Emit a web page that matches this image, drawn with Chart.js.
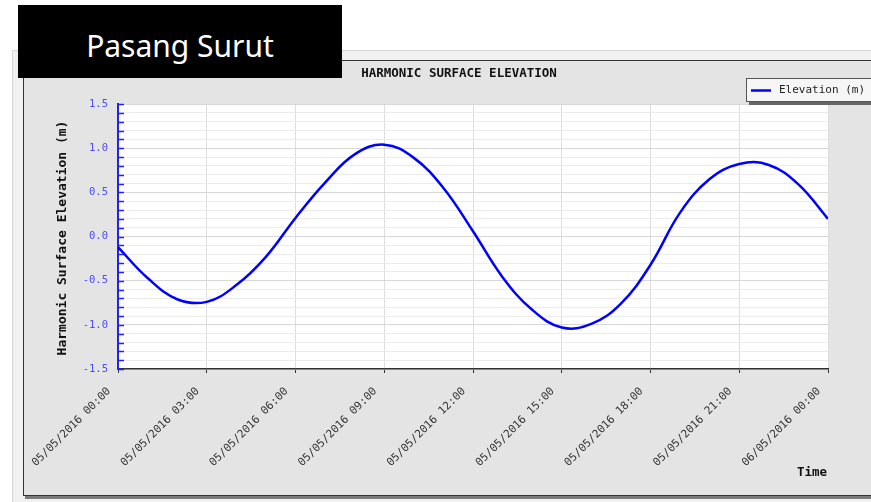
<!DOCTYPE html>
<html>
<head>
<meta charset="utf-8">
<script src="https://cdn.jsdelivr.net/npm/chart.js@4.4.0/dist/chart.umd.min.js"></script>
<style>
  html, body { margin: 0; padding: 0; background: #fff; }
  #wrap { position: relative; width: 871px; height: 502px; overflow: hidden; }
  .outer { position: absolute; left: 12px; top: 50px; width: 880px; height: 470px;
           background: #f1f1f1; border-top: 1px solid #d6d6d6; border-left: 1px solid #d6d6d6; }
  .inner { position: absolute; left: 23px; top: 60px; width: 880px; height: 434px;
           background: #e4e4e4; border: 1px solid #333; box-shadow: 2px 3px 0 #7a7a7a; }
  .badge { position: absolute; left: 18px; top: 5px; width: 324px; height: 73px; background: #000;
           color: #fff; font-family: "Noto Sans", sans-serif; font-size: 30px; line-height: 73px;
           text-align: center; z-index: 3; padding-top: 4px; box-sizing: border-box; }
  canvas { position: absolute; left: 0; top: 0; z-index: 2; }
</style>
</head>
<body>
<div id="wrap">
  <div class="outer"></div>
  <div class="inner"></div>
  <div class="badge">Pasang Surut</div>
  <canvas id="tide" width="871" height="502"></canvas>
</div>
<script>
// tick labels for the time axis (every 3 hours)
const timeLabels = ['05/05/2016 00:00', '05/05/2016 03:00', '05/05/2016 06:00', '05/05/2016 09:00',
    '05/05/2016 12:00', '05/05/2016 15:00', '05/05/2016 18:00', '05/05/2016 21:00', '06/05/2016 00:00'];

// hours since 05/05/2016 00:00
const hours = [0, 1, 2, 3, 4, 5, 6, 7, 8, 9, 10, 11, 12, 13, 14, 15, 16, 17, 18, 19, 20, 21, 22, 23, 24];
// elevation (m)
const elevation = [-0.12, -0.47, -0.71, -0.74, -0.55, -0.23, 0.21, 0.61, 0.93, 1.04, 0.89, 0.55, 0.06,
    -0.46, -0.83, -1.03, -0.99, -0.76, -0.32, 0.27, 0.65, 0.82, 0.81, 0.59, 0.20];

const MONO = '"DejaVu Sans Mono", monospace';

var decorPlugin = {
    id: 'decor',
    beforeDraw: function (chart) {
        const ctx = chart.ctx;
        const a = chart.chartArea;
        ctx.save();
        ctx.fillStyle = '#ffffff';
        ctx.fillRect(a.left, a.top, a.right - a.left, a.bottom - a.top);
        ctx.restore();
    },
    afterDraw: function (chart) {
        const ctx = chart.ctx;
        const a = chart.chartArea;
        const y = chart.scales.y;
        ctx.save();

        // inward ticks on the value axis
        ctx.strokeStyle = '#2020ff';
        ctx.lineWidth = 1.5;
        y.ticks.forEach(function (t) {
            const py = Math.round(y.getPixelForValue(t.value)) + 0.5;
            ctx.beginPath();
            ctx.moveTo(a.left, py);
            ctx.lineTo(a.left + 6, py);
            ctx.stroke();
        });

        // title
        ctx.fillStyle = '#111';
        ctx.font = 'bold 12.5px ' + MONO;
        ctx.textAlign = 'center';
        ctx.textBaseline = 'middle';
        ctx.fillText('HARMONIC SURFACE ELEVATION', 459, 74);

        // y axis title
        ctx.save();
        ctx.translate(63, 238);
        ctx.rotate(-Math.PI / 2);
        ctx.font = 'bold 13px ' + MONO;
        ctx.fillText('Harmonic Surface Elevation (m)', 0, 0);
        ctx.restore();

        // x axis title
        ctx.font = 'bold 12.5px ' + MONO;
        ctx.textAlign = 'right';
        ctx.fillText('Time', 827, 473);

        // legend box
        ctx.fillStyle = '#666';
        ctx.fillRect(749, 81, 140, 24);
        ctx.fillStyle = '#f6f6f6';
        ctx.fillRect(746, 78, 140, 24);
        ctx.strokeStyle = '#555';
        ctx.lineWidth = 1;
        ctx.strokeRect(746.5, 78.5, 140, 23);
        ctx.strokeStyle = '#0000ff';
        ctx.lineWidth = 2.5;
        ctx.beginPath();
        ctx.moveTo(751, 90.5);
        ctx.lineTo(771, 90.5);
        ctx.stroke();
        ctx.fillStyle = '#222';
        ctx.font = '11px ' + MONO;
        ctx.textAlign = 'left';
        ctx.fillText(chart.data.datasets[0].label, 779, 90);

        ctx.restore();
    }
};

new Chart(document.getElementById('tide'), {
    type: 'line',
    data: {
        datasets: [{
            label: 'Elevation (m)',
            data: hours.map(function (h, i) { return { x: h, y: elevation[i] }; }),
            borderColor: '#0000ff',
            borderWidth: 2.5,
            pointRadius: 0,
            fill: false,
            tension: 0.4
        }]
    },
    options: {
        responsive: false,
        animation: false,
        layout: { padding: { left: 0, top: 104, right: 43, bottom: 0 } },
        plugins: {
            legend: { display: false },
            title: { display: false },
            tooltip: { enabled: false }
        },
        scales: {
            x: {
                type: 'linear',
                min: 0,
                max: 24,
                afterFit: function (scale) { scale.height = 133; },
                ticks: {
                    stepSize: 3,
                    autoSkip: false,
                    minRotation: 45,
                    maxRotation: 45,
                    color: '#333',
                    padding: 12,
                    labelOffset: -9,
                    font: { family: MONO, size: 11 },
                    callback: function (v) { return timeLabels[Math.round(v / 3)]; }
                },
                grid: {
                    color: '#dddddd',
                    tickColor: '#333',
                    tickLength: 4,
                    lineWidth: 1
                },
                border: { color: '#333', width: 1.5 }
            },
            y: {
                min: -1.5,
                max: 1.5,
                afterFit: function (scale) { scale.width = 118; },
                ticks: {
                    stepSize: 0.1,
                    autoSkip: false,
                    padding: 10,
                    color: '#4a4aff',
                    font: { family: MONO, size: 10.5 },
                    callback: function (v) {
                        const r = Math.round(v * 10);
                        return r % 5 === 0 ? (r / 10).toFixed(1) : '';
                    }
                },
                grid: {
                    drawTicks: false,
                    color: function (c) {
                        const r = Math.round(c.tick.value * 10);
                        return r % 5 === 0 ? '#d8d8d8' : '#ececec';
                    },
                    lineWidth: 1
                },
                border: { color: '#2020ff', width: 2 }
            }
        }
    },
    plugins: [decorPlugin]
});
</script>
</body>
</html>
